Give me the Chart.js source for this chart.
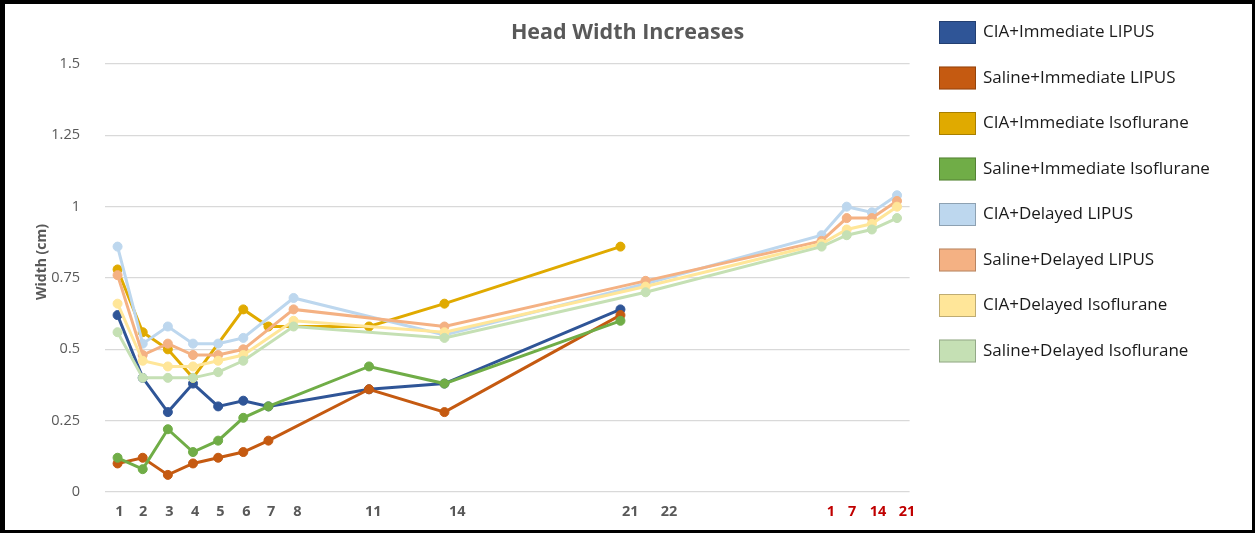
<!DOCTYPE html>
<html>
<head>
<meta charset="utf-8">
<title>Head Width Increases</title>
<script src="https://cdn.jsdelivr.net/npm/chart.js@4.4.1/dist/chart.umd.min.js"></script>
<style>
  html, body { margin: 0; padding: 0; background: #ffffff; }
  canvas { display: block; }
</style>
</head>
<body>
<canvas id="chart" width="1255" height="533"></canvas>
<script>
// Measurement slots along the timeline (one per visit; second phase follows day 22)
const visitSlot = [1, 2, 3, 4, 5, 6, 7, 8, 11, 14, 21, 22, 29, 30, 31, 32];

// Group names
const groupNames = [
  'CIA+Immediate LIPUS',
  'Saline+Immediate LIPUS',
  'CIA+Immediate Isoflurane',
  'Saline+Immediate Isoflurane',
  'CIA+Delayed LIPUS',
  'Saline+Delayed LIPUS',
  'CIA+Delayed Isoflurane',
  'Saline+Delayed Isoflurane'
];

// Head width (cm) per group, aligned with visitSlot; null = not measured
const ciaImmediateLipus      = [0.62, 0.40, 0.28, 0.38, 0.30, 0.32, 0.30, null, 0.36, 0.38, 0.64, null, null, null, null, null];
const salineImmediateLipus   = [0.10, 0.12, 0.06, 0.10, 0.12, 0.14, 0.18, null, 0.36, 0.28, 0.62, null, null, null, null, null];
const ciaImmediateIso        = [0.78, 0.56, 0.50, 0.40, null, 0.64, 0.58, null, 0.58, 0.66, 0.86, null, null, null, null, null];
const salineImmediateIso     = [0.12, 0.08, 0.22, 0.14, 0.18, 0.26, 0.30, null, 0.44, 0.38, 0.60, null, null, null, null, null];
const ciaDelayedLipus        = [0.86, 0.52, 0.58, 0.52, 0.52, 0.54, null, 0.68, null, 0.55, null, 0.73, 0.90, 1.00, 0.98, 1.04];
const salineDelayedLipus     = [0.76, 0.48, 0.52, 0.48, 0.48, 0.50, null, 0.64, null, 0.58, null, 0.74, 0.88, 0.96, 0.96, 1.02];
const ciaDelayedIso          = [0.66, 0.46, 0.44, 0.44, 0.46, 0.48, null, 0.60, null, 0.56, null, 0.72, 0.87, 0.92, 0.94, 1.00];
const salineDelayedIso       = [0.56, 0.40, 0.40, 0.40, 0.42, 0.46, null, 0.58, null, 0.54, null, 0.70, 0.86, 0.90, 0.92, 0.96];

// Day labels under the axis (last four belong to the second phase)
const dayLabels = ['1', '2', '3', '4', '5', '6', '7', '8', '11', '14', '21', '22', '1', '7', '14', '21'];
const secondPhaseFrom = 12;

const chartTitle = 'Head Width Increases';
const yAxisCaption = 'Width (cm)';

// ---- presentation ----
const FONT = "'Open Sans', 'DejaVu Sans', sans-serif";
const seriesColors = ['#2F5597', '#C55A11', '#E0AA00', '#70AD47', '#BDD7EE', '#F4B183', '#FFE699', '#C5E0B4'];
// where each day label sits along the x scale
const dayLabelAt = [1.07, 2.02, 3.06, 4.09, 5.09, 6.12, 7.11, 8.15, 11.17, 14.51, 21.39, 22.93, 29.37, 30.21, 31.24, 32.40];

const seriesValues = [
  ciaImmediateLipus, salineImmediateLipus, ciaImmediateIso, salineImmediateIso,
  ciaDelayedLipus, salineDelayedLipus, ciaDelayedIso, salineDelayedIso
];

const datasets = seriesValues.map((vals, i) => ({
  label: groupNames[i],
  data: visitSlot.map((s, k) => ({ x: s, y: vals[k] })).filter(p => p.y !== null),
  borderColor: seriesColors[i],
  backgroundColor: seriesColors[i],
  pointBackgroundColor: seriesColors[i],
  pointBorderColor: seriesColors[i],
  borderWidth: 3,
  pointRadius: 4.5,
  pointBorderWidth: 1,
  tension: 0,
  xAxisID: 'x',
  yAxisID: 'y',
  order: -i
}));

// white page, side key, rotated axis caption and the black frame
const pageDecor = {
  id: 'pageDecor',
  beforeDraw(chart) {
    const c = chart.ctx;
    c.save();
    c.fillStyle = '#ffffff';
    c.fillRect(0, 0, chart.width, chart.height);
    c.restore();
  },
  afterDraw(chart) {
    const c = chart.ctx;
    c.save();
    // y axis caption
    c.translate(42, 262);
    c.rotate(-Math.PI / 2);
    c.font = 'bold 14px ' + FONT;
    c.fillStyle = '#595959';
    c.textAlign = 'center';
    c.textBaseline = 'middle';
    c.fillText(yAxisCaption, 0, 0);
    c.setTransform(1, 0, 0, 1, 0, 0);

    // key
    c.textAlign = 'left';
    c.textBaseline = 'middle';
    c.font = '17px ' + FONT;
    chart.data.datasets.forEach((ds, i) => {
      const cy = 32.5 + i * 45.5;
      c.fillStyle = ds.borderColor;
      c.fillRect(939, cy - 11.5, 37, 23);
      c.strokeStyle = 'rgba(0,0,0,0.25)';
      c.lineWidth = 1;
      c.strokeRect(939.5, cy - 11, 36, 22);
      c.fillStyle = '#1a1a1a';
      c.fillText(ds.label, 983, cy);
    });

    // frame
    c.fillStyle = '#000000';
    c.fillRect(0, 0, 5, chart.height);
    c.fillRect(0, 0, chart.width, 4);
    c.fillRect(chart.width - 3, 0, 3, chart.height);
    c.fillRect(0, chart.height - 3, chart.width, 3);
    c.restore();
  }
};

new Chart(document.getElementById('chart'), {
  type: 'line',
  data: { datasets },
  plugins: [pageDecor],
  options: {
    responsive: false,
    animation: false,
    events: [],
    layout: { padding: 0 },
    plugins: {
      legend: { display: false },
      tooltip: { enabled: false },
      title: {
        display: true,
        text: chartTitle,
        color: '#595959',
        font: { family: FONT, size: 21.5, weight: 'bold' },
        padding: { top: 20, bottom: 18.2 }
      }
    },
    scales: {
      x: {
        type: 'linear',
        min: 0.5,
        max: 32.5,
        grid: { display: false, drawTicks: false },
        border: { display: false },
        afterBuildTicks: s => { s.ticks = dayLabelAt.map(v => ({ value: v })); },
        afterFit: s => { s.height = 41; },
        ticks: {
          autoSkip: false,
          maxRotation: 0,
          padding: 11,
          font: { family: FONT, size: 14.5, weight: 'bold' },
          color: ctx => (ctx.index >= secondPhaseFrom ? '#C00000' : '#595959'),
          callback: (v, i) => dayLabels[i]
        }
      },
      y: {
        type: 'linear',
        position: 'left',
        min: 0,
        max: 1.5,
        border: { display: false },
        grid: { color: '#D9D9D9', lineWidth: 1.3, drawTicks: false },
        afterFit: s => { s.width = 105; },
        ticks: {
          stepSize: 0.25,
          padding: 25,
          color: '#595959',
          font: { family: FONT, size: 14.5 },
          callback: v => String(+Number(v).toFixed(2))
        }
      },
      keyGutter: {
        type: 'linear',
        position: 'right',
        grid: { display: false, drawTicks: false },
        border: { display: false },
        ticks: { display: false },
        afterFit: s => { s.width = 345.4; }
      }
    }
  }
});
</script>
</body>
</html>
